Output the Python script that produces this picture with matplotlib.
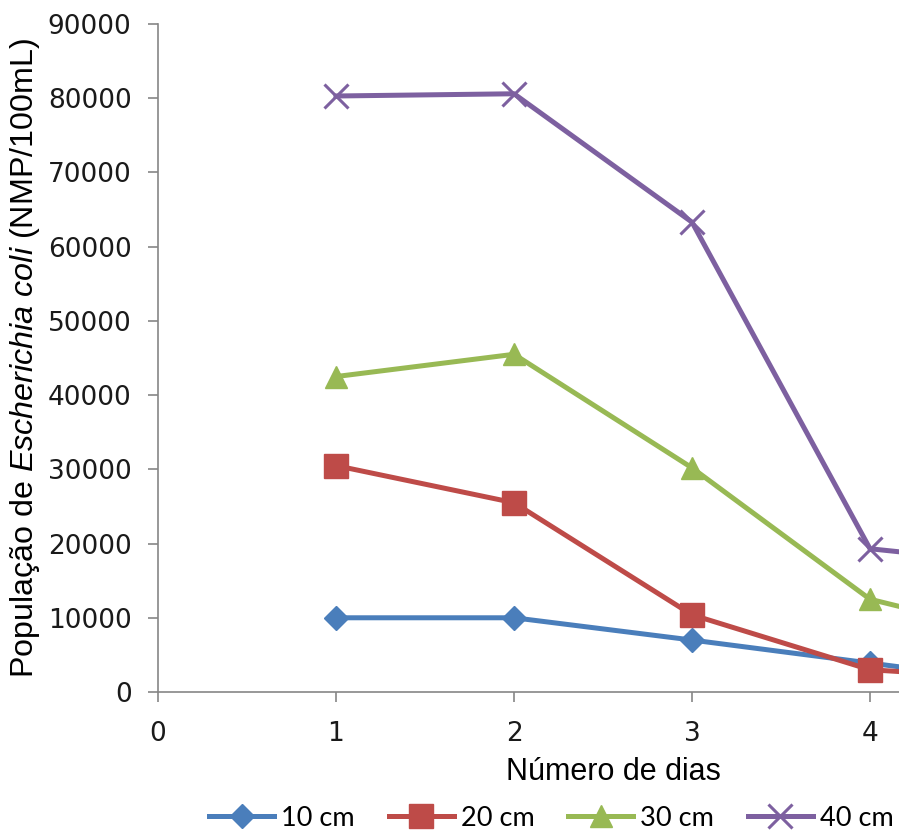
import matplotlib
matplotlib.use('Agg')
import matplotlib.pyplot as plt

dias = [1, 2, 3, 4, 5]
pop_10cm = [10000, 10000, 7000, 3900, 800]
pop_20cm = [30500, 25500, 10400, 3000, 1500]
pop_30cm = [42500, 45500, 30200, 12500, 6600]
pop_40cm = [80300, 80600, 63300, 19300, 16800]
series_labels = ['10 cm', '20 cm', '30 cm', '40 cm']

plt.rcParams['font.family'] = 'DejaVu Sans'
plt.rcParams['mathtext.fontset'] = 'custom'
plt.rcParams['mathtext.rm'] = 'Liberation Sans'
plt.rcParams['mathtext.it'] = 'Liberation Sans:italic'

fig = plt.figure(figsize=(8.99, 8.31), dpi=100)
ax = fig.add_axes([158 / 899, 139 / 831, 1 - 158 / 899, 668 / 831])

styles = [
    dict(color='#4A7EBB', marker='D', markersize=12),
    dict(color='#BE4B48', marker='s', markersize=17),
    dict(color='#98B954', marker='^', markersize=16),
    dict(color='#7D60A0', marker='x', markersize=17, markeredgewidth=2.2),
]
for values, label, st in zip([pop_10cm, pop_20cm, pop_30cm, pop_40cm], series_labels, styles):
    ax.plot(dias, values, linewidth=3.6, label=label, **st)

ax.set_xlim(0, 741 / 178)
ax.set_ylim(0, 90000)
ax.set_xticks([0, 1, 2, 3, 4])
ax.set_yticks(range(0, 90001, 10000))

for side in ['top', 'right']:
    ax.spines[side].set_visible(False)
for side in ['left', 'bottom']:
    ax.spines[side].set_color('#868686')
    ax.spines[side].set_linewidth(1.2)
ax.tick_params(axis='both', direction='out', length=7, width=1.2, color='#868686',
               labelsize=19, labelcolor='#1a1a1a')
ax.tick_params(axis='x', pad=14)
ax.tick_params(axis='y', pad=12)

ax.set_ylabel(r'População de $\mathit{Escherichia\ coli}$ (NMP/100mL)',
              fontsize=23.2, family='Liberation Sans')
ax.yaxis.set_label_coords(-0.157, 0.5)
ax.set_xlabel('Número de dias', fontsize=22, family='Liberation Sans')
ax.xaxis.set_label_coords(0.615, -0.098)

fig.legend(loc='center left', bbox_to_anchor=(209 / 899, 13 / 831), ncol=4, frameon=False,
           prop={'family': 'Lato', 'size': 19.5}, handlelength=2.4, handletextpad=0.26,
           columnspacing=1.25, borderaxespad=0, borderpad=0)

fig.savefig('out.png', dpi=100)
